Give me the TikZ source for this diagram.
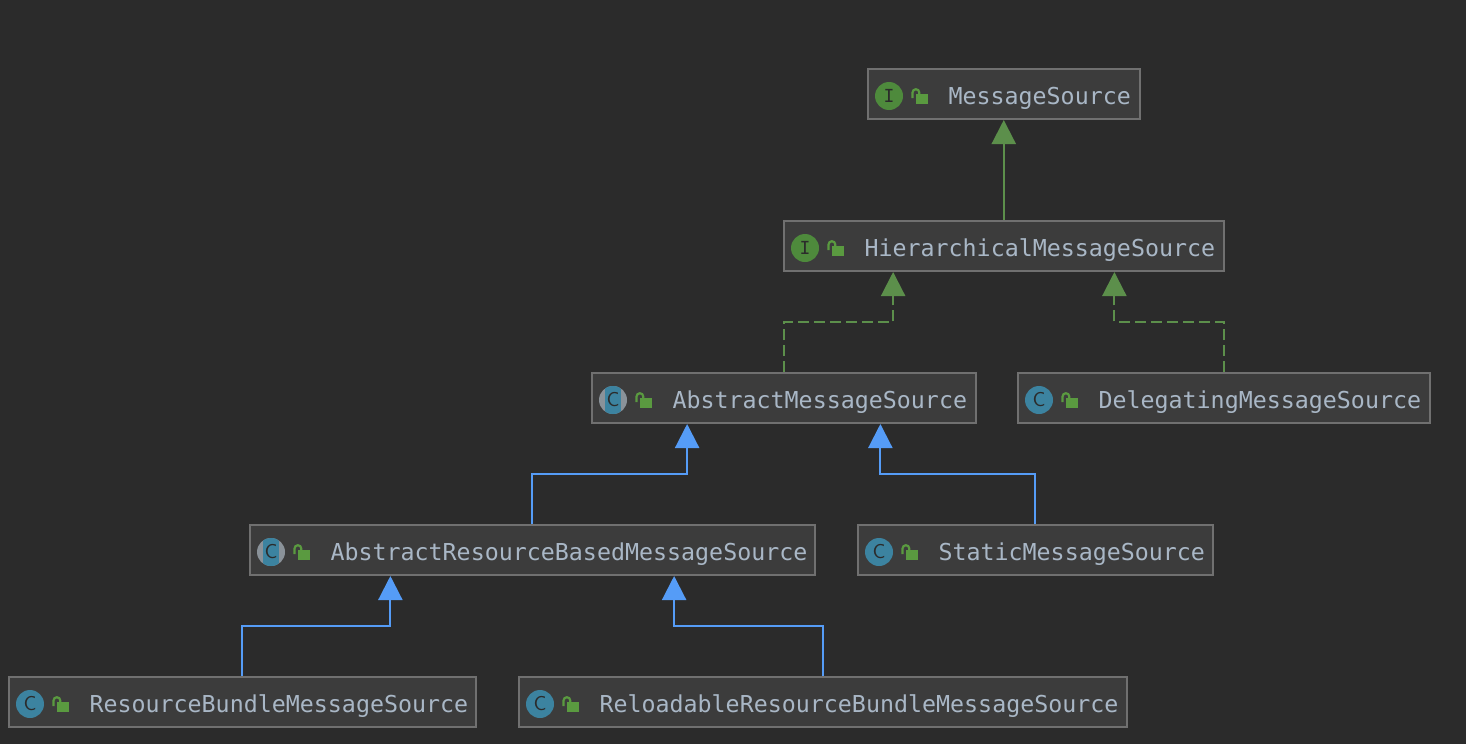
\documentclass[tikz,border=0pt]{standalone}
\usepackage{fontspec}
\setmonofont{DejaVu Sans Mono}
\usetikzlibrary{arrows.meta,calc}
\definecolor{canvasbg}{HTML}{2B2B2B}
\definecolor{boxfill}{HTML}{3C3C3C}
\definecolor{boxline}{HTML}{707070}
\definecolor{nametext}{HTML}{A9B7C6}
\definecolor{implgreen}{HTML}{5C8F4B}
\definecolor{extblue}{HTML}{559CF7}
\definecolor{ifacegreen}{HTML}{4E8A3C}
\definecolor{classteal}{HTML}{3C83A0}
\definecolor{abstractgrey}{HTML}{8A9299}
\definecolor{lockgreen}{HTML}{5A9A40}
\tikzset{
    umlbox/.style={draw=boxline, fill=boxfill, line width=1pt, anchor=west, inner xsep=0pt, inner ysep=0pt,
        minimum height=25pt, text height=11.5pt, text depth=1.5pt, align=left, text=nametext,
        font=\ttfamily\fontsize{11.65}{14}\selectfont},
    iconbase/.style={circle, inner sep=0pt, minimum size=14pt, text=canvasbg},
    ifaceicon/.style={iconbase, fill=ifacegreen, font=\ttfamily\fontsize{9}{9}\selectfont},
    classicon/.style={iconbase, fill=classteal, font=\sffamily\fontsize{10}{10}\selectfont},
    abstracticon/.style={iconbase, fill=abstractgrey, font=\sffamily\fontsize{10}{10}\selectfont,
        path picture={\fill[classteal] (path picture bounding box.center) ++(-4pt,-8pt) rectangle ++(8pt,16pt);}},
    lockicon/.pic={
        \fill[lockgreen] (0pt,-2.5pt) rectangle (6pt,2.5pt);
        \draw[lockgreen, line width=1.1pt] (-1.75pt,0.5pt) -- (-1.75pt,3.2pt) arc[start angle=180, end angle=0, radius=1.7pt] -- ++(0pt,-1pt);
    },
    inherit/.style={draw=extblue, line width=1.1pt, -{Triangle[length=12pt,width=12pt,fill=extblue]}},
    realize/.style={draw=implgreen, line width=1.1pt, -{Triangle[length=12pt,width=12pt,fill=implgreen]}},
    realizedash/.style={realize, dash pattern=on 5.5pt off 2.5pt}
}
% name, left, middle, width, icon style, letter, class name
\newcommand{\umlclass}[7]{
    \node[umlbox, text width=#4*0.5pt] (#1) at (#2,#3) {\hspace*{40.5pt}#7};
    \node[#5] (#1-icon) at ($(#1.west)+(22.5,2)$) {#6};
    \pic at ($(#1.west)+(49.5,5)$) {lockicon};
    \coordinate (#1-l) at ($(#1.south west)!.25!(#1.south east)$);
    \coordinate (#1-r) at ($(#1.south west)!.75!(#1.south east)$);
}
\begin{document}
\begin{tikzpicture}[x=0.5pt,y=-0.5pt]
    \useasboundingbox (0,0) rectangle (1466,744);
    \fill[canvasbg] (0,0) rectangle (1466,744);
    \umlclass{msg}{866.5}{94}{272.5}{ifaceicon}{I}{MessageSource}
    \umlclass{hier}{782.5}{246}{440.5}{ifaceicon}{I}{HierarchicalMessageSource}
    \umlclass{amsg}{590.5}{398}{384.5}{abstracticon}{C}{AbstractMessageSource}
    \umlclass{deleg}{1016.5}{398}{412.5}{classicon}{C}{DelegatingMessageSource}
    \umlclass{arb}{248.5}{550}{565.5}{abstracticon}{C}{AbstractResourceBasedMessageSource}
    \umlclass{stat}{856.5}{550}{355.5}{classicon}{C}{StaticMessageSource}
    \umlclass{rb}{7.5}{702}{467.5}{classicon}{C}{ResourceBundleMessageSource}
    \umlclass{rrb}{517.5}{702}{608.5}{classicon}{C}{ReloadableResourceBundleMessageSource}
    \draw[realize] (hier.north) -- (msg.south);
    \draw[realizedash] (amsg.north) -- ++(0,-50) -| (hier-l);
    \draw[realizedash] (deleg.north) -- ++(0,-50) -| (hier-r);
    \draw[inherit] (arb.north) -- ++(0,-50) -| (amsg-l);
    \draw[inherit] (stat.north) -- ++(0,-50) -| (amsg-r);
    \draw[inherit] (rb.north) -- ++(0,-50) -| (arb-l);
    \draw[inherit] (rrb.north) -- ++(0,-50) -| (arb-r);
\end{tikzpicture}
\end{document}
